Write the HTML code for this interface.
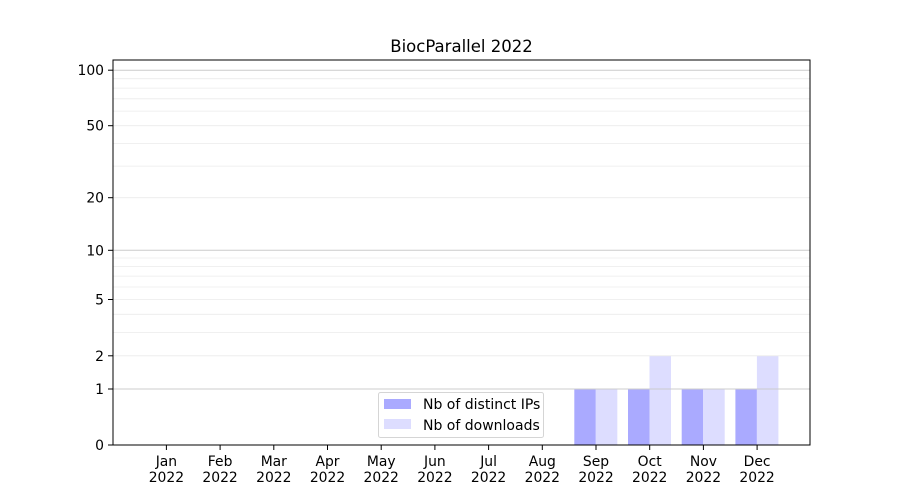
<!DOCTYPE html>
<html><head><meta charset="utf-8"><style>body{margin:0;background:#fff}svg{display:block}text{font-family:"DejaVu Sans","Liberation Sans",sans-serif;font-size:13.9px;fill:#000}</style></head>
<body>
<svg width="900" height="500" viewBox="0 0 900 500" xmlns="http://www.w3.org/2000/svg">
<rect width="900" height="500" fill="#fff"/>
<text x="461.5" y="52" text-anchor="middle" style="font-size:16.5px">BiocParallel 2022</text>
<g>
<rect x="574.3" y="389" width="21.5" height="56" fill="#aaaaff"/>
<rect x="595.8" y="389" width="21.5" height="56" fill="#ddddff"/>
<rect x="628" y="389" width="21.5" height="56" fill="#aaaaff"/>
<rect x="649.5" y="355.8" width="21.5" height="89.2" fill="#ddddff"/>
<rect x="681.7" y="389" width="21.5" height="56" fill="#aaaaff"/>
<rect x="703.2" y="389" width="21.5" height="56" fill="#ddddff"/>
<rect x="735.4" y="389" width="21.5" height="56" fill="#aaaaff"/>
<rect x="756.9" y="355.8" width="21.5" height="89.2" fill="#ddddff"/>
</g>
<g stroke="#ebebeb" stroke-width="0.8">
<line x1="113" x2="810" y1="355.8" y2="355.8"/>
<line x1="113" x2="810" y1="332.4" y2="332.4"/>
<line x1="113" x2="810" y1="314.3" y2="314.3"/>
<line x1="113" x2="810" y1="299.5" y2="299.5"/>
<line x1="113" x2="810" y1="287" y2="287"/>
<line x1="113" x2="810" y1="276.1" y2="276.1"/>
<line x1="113" x2="810" y1="266.6" y2="266.6"/>
<line x1="113" x2="810" y1="258" y2="258"/>
<line x1="113" x2="810" y1="197.7" y2="197.7"/>
<line x1="113" x2="810" y1="166.1" y2="166.1"/>
<line x1="113" x2="810" y1="143.4" y2="143.4"/>
<line x1="113" x2="810" y1="125.7" y2="125.7"/>
<line x1="113" x2="810" y1="111.1" y2="111.1"/>
<line x1="113" x2="810" y1="98.8" y2="98.8"/>
<line x1="113" x2="810" y1="88.1" y2="88.1"/>
<line x1="113" x2="810" y1="78.7" y2="78.7"/>
</g>
<g stroke="#cccccc" stroke-width="1">
<line x1="113" x2="810" y1="389" y2="389"/>
<line x1="113" x2="810" y1="250.3" y2="250.3"/>
<line x1="113" x2="810" y1="70.2" y2="70.2"/>
</g>
<rect x="113" y="60" width="697" height="385" fill="none" stroke="#000" stroke-width="1"/>
<g stroke="#000">
<line x1="108" x2="113" y1="445" y2="445"/>
<line x1="108" x2="113" y1="389" y2="389"/>
<line x1="108" x2="113" y1="355.8" y2="355.8"/>
<line x1="108" x2="113" y1="299.5" y2="299.5"/>
<line x1="108" x2="113" y1="250.3" y2="250.3"/>
<line x1="108" x2="113" y1="197.7" y2="197.7"/>
<line x1="108" x2="113" y1="125.7" y2="125.7"/>
<line x1="108" x2="113" y1="70.2" y2="70.2"/>
</g>
<g text-anchor="end">
<text x="104" y="450">0</text>
<text x="104" y="394">1</text>
<text x="104" y="361">2</text>
<text x="104" y="304.5">5</text>
<text x="104" y="255.3">10</text>
<text x="104" y="202.7">20</text>
<text x="104" y="130.7">50</text>
<text x="104" y="75.2">100</text>
</g>
<g stroke="#000">
<line x1="166.4" x2="166.4" y1="445" y2="450"/>
<line x1="220.1" x2="220.1" y1="445" y2="450"/>
<line x1="273.8" x2="273.8" y1="445" y2="450"/>
<line x1="327.5" x2="327.5" y1="445" y2="450"/>
<line x1="381.2" x2="381.2" y1="445" y2="450"/>
<line x1="434.9" x2="434.9" y1="445" y2="450"/>
<line x1="488.6" x2="488.6" y1="445" y2="450"/>
<line x1="542.3" x2="542.3" y1="445" y2="450"/>
<line x1="596" x2="596" y1="445" y2="450"/>
<line x1="649.7" x2="649.7" y1="445" y2="450"/>
<line x1="703.4" x2="703.4" y1="445" y2="450"/>
<line x1="757.1" x2="757.1" y1="445" y2="450"/>
</g>
<g text-anchor="middle">
<text x="166.4" y="466">Jan</text><text x="166.4" y="482">2022</text>
<text x="220.1" y="466">Feb</text><text x="220.1" y="482">2022</text>
<text x="273.8" y="466">Mar</text><text x="273.8" y="482">2022</text>
<text x="327.5" y="466">Apr</text><text x="327.5" y="482">2022</text>
<text x="381.2" y="466">May</text><text x="381.2" y="482">2022</text>
<text x="434.9" y="466">Jun</text><text x="434.9" y="482">2022</text>
<text x="488.6" y="466">Jul</text><text x="488.6" y="482">2022</text>
<text x="542.3" y="466">Aug</text><text x="542.3" y="482">2022</text>
<text x="596" y="466">Sep</text><text x="596" y="482">2022</text>
<text x="649.7" y="466">Oct</text><text x="649.7" y="482">2022</text>
<text x="703.4" y="466">Nov</text><text x="703.4" y="482">2022</text>
<text x="757.1" y="466">Dec</text><text x="757.1" y="482">2022</text>
</g>
<rect x="378.5" y="392.5" width="165" height="45" rx="2" fill="#fff" fill-opacity="0.8" stroke="#d5d5d5"/>
<rect x="384" y="399" width="27" height="10" fill="#aaaaff"/>
<rect x="384" y="419" width="27" height="10" fill="#ddddff"/>
<text x="423" y="409" style="font-size:14px">Nb of distinct IPs</text>
<text x="423" y="430" style="font-size:14px">Nb of downloads</text>
</svg>
</body></html>
